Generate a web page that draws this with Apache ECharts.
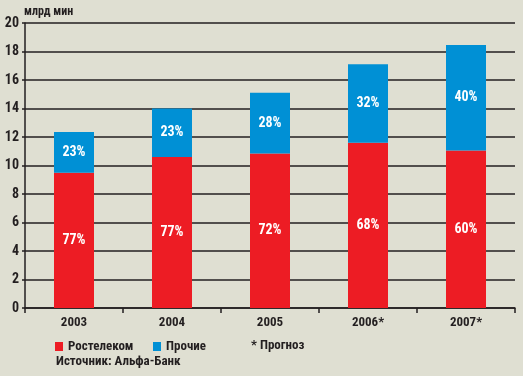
<!DOCTYPE html>
<html><head><meta charset="utf-8">
<script src="https://cdn.jsdelivr.net/npm/echarts@6/dist/echarts.min.js"></script>
<style>html,body{margin:0;padding:0;background:#dfdfd2;}#c{width:523px;height:376px;}</style>
</head><body><div id="c"></div>
<script>
const categories = ['2003', '2004', '2005', '2006*', '2007*'];
const rostelecom = [9.5, 10.6, 10.85, 11.6, 11.05];
const others = [2.85, 3.4, 4.25, 5.5, 7.4];
const pctRostelecom = ['77%', '77%', '72%', '68%', '60%'];
const pctOthers = ['23%', '23%', '28%', '32%', '40%'];
const yTicks = [0, 2, 4, 6, 8, 10, 12, 14, 16, 18, 20];

const FONT = '"Roboto Condensed", "DejaVu Sans Condensed", sans-serif';
const DARK = '#231f20';
const chart = echarts.init(document.getElementById('c'));
chart.setOption({
  backgroundColor: '#dfdfd2',
  animation: false,
  textStyle: { fontFamily: FONT },
  grid: { left: 25, right: 8, top: 23, bottom: 68 },
  legend: [
    { data: ['Ростелеком'], left: 53, top: 338, padding: [2, 2], icon: 'rect', itemWidth: 8, itemHeight: 9, itemGap: 6,
      textStyle: { fontFamily: FONT, fontWeight: 'bold', fontSize: 13, color: DARK } },
    { data: ['Прочие'], left: 151, top: 338, padding: [2, 2], icon: 'rect', itemWidth: 8, itemHeight: 9, itemGap: 6,
      textStyle: { fontFamily: FONT, fontWeight: 'bold', fontSize: 13, color: DARK } }
  ],
  graphic: [
    { type: 'text', left: 24, top: 6, style: { text: 'млрд мин', font: 'bold 12px ' + FONT, fill: DARK } },
    { type: 'text', left: 251, top: 339, style: { text: '* Прогноз', font: 'bold 13px ' + FONT, fill: DARK } },
    { type: 'text', left: 56, top: 355, style: { text: 'Источник: Альфа-Банк', font: 'bold 13px ' + FONT, fill: DARK } }
  ],
  xAxis: {
    type: 'category', data: categories,
    axisLine: { lineStyle: { color: DARK, width: 1.5 } },
    axisTick: { show: true, length: 5, lineStyle: { color: DARK, width: 1.5 } },
    axisLabel: { margin: 8, fontFamily: FONT, fontWeight: 'bold', fontSize: 13, color: DARK }
  },
  yAxis: {
    type: 'value', min: 0, max: 20, interval: 2,
    axisLine: { show: true, lineStyle: { color: DARK, width: 1.5 } },
    axisTick: { show: true, length: 3, lineStyle: { color: DARK, width: 1.5 } },
    axisLabel: { margin: 6, fontFamily: FONT, fontWeight: 'bold', fontSize: 14, color: DARK,
      formatter: v => yTicks.includes(v) ? String(v) : '' },
    splitLine: { show: true, lineStyle: { color: DARK, width: 1.5 } }
  },
  series: [
    { name: 'Ростелеком', type: 'bar', stack: 'a', barWidth: 40, data: rostelecom,
      itemStyle: { color: '#ed1c24' },
      label: { show: true, position: 'inside', color: '#fff', fontFamily: FONT, fontWeight: 'bold', fontSize: 14,
        formatter: p => pctRostelecom[p.dataIndex] } },
    { name: 'Прочие', type: 'bar', stack: 'a', barWidth: 40, data: others,
      itemStyle: { color: '#0090d5' },
      label: { show: true, position: 'inside', color: '#fff', fontFamily: FONT, fontWeight: 'bold', fontSize: 14,
        formatter: p => pctOthers[p.dataIndex] } }
  ]
});
</script></body></html>
